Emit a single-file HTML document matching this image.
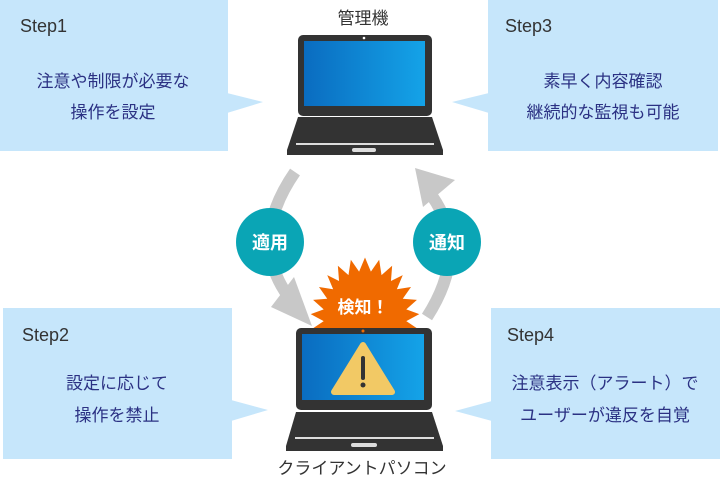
<!DOCTYPE html>
<html><head><meta charset="utf-8"><style>
html,body{margin:0;padding:0;background:#fff;}
svg{display:block;font-family:"Liberation Sans","Noto Sans CJK JP",sans-serif;}
</style></head><body>
<svg width="720" height="479" viewBox="0 0 720 479" xmlns="http://www.w3.org/2000/svg">
<defs>
<linearGradient id="scr" x1="0" x2="1" y1="0" y2="0"><stop offset="0" stop-color="#0a6cc0"/><stop offset="1" stop-color="#14a3e8"/></linearGradient>
</defs>
<g fill="#c6e6fb">
<rect x="0" y="0" width="228" height="151"/><polygon points="227,93 263,102 227,113"/>
<rect x="488" y="0" width="230" height="151"/><polygon points="489,93 452,102 489,113"/>
<rect x="3" y="308" width="229" height="151"/><polygon points="231,400 268,410 231,421"/>
<rect x="491" y="308" width="229" height="151"/><polygon points="492,401 455,411 492,421"/>
</g>
<g font-size="18" fill="#333">
<text x="20" y="32">Step1</text>
<text x="505" y="32">Step3</text>
<text x="22" y="341">Step2</text>
<text x="507" y="341">Step4</text>
</g>
<g font-size="17" fill="#2b3183" text-anchor="middle">
<text x="113" y="87">注意や制限が必要な</text>
<text x="113" y="118">操作を設定</text>
<text x="603" y="87">素早く内容確認</text>
<text x="603" y="118">継続的な監視も可能</text>
<text x="117" y="389">設定に応じて</text>
<text x="117" y="421">操作を禁止</text>
<text x="605" y="389">注意表示（アラート）で</text>
<text x="605" y="421">ユーザーが違反を自覚</text>
</g>
<g fill="none" stroke="#c8c8c8" stroke-width="12">
<path d="M295,172 Q248,240 288,296"/>
<path d="M427,317 Q470,250 432,196"/>
</g>
<polygon points="271,307 294,277 312,326" fill="#c8c8c8"/>
<polygon points="415,168 455,180 423,207" fill="#c8c8c8"/>
<circle cx="270" cy="242" r="34" fill="#0aa5b5"/>
<circle cx="447" cy="242" r="34" fill="#0aa5b5"/>
<g font-size="18" fill="#fff" text-anchor="middle" font-weight="bold">
<text x="270" y="249">適用</text>
<text x="447" y="249">通知</text>
</g>
<g transform="translate(365,307) scale(1.18) translate(-363,-300)">
<polygon fill="#f06a00" points="
363,258 368,270 375,260 377,273 386,265 385,278 395,273 390,285 402,283 395,293 407,294 398,302 409,306 398,312 407,318 395,320 400,330 363,340 326,330 331,320 319,318 328,312 317,306 328,302 319,294 331,293 324,283 336,285 331,273 341,278 340,265 349,273 351,260 358,270"/>
</g>
<text x="363" y="313" font-size="17" fill="#fff" text-anchor="middle" font-weight="bold">検知！</text>
<text x="363" y="24" font-size="17" fill="#333" text-anchor="middle">管理機</text>
<rect x="298" y="35" width="134" height="81" rx="5" fill="#333"/>
<rect x="304" y="41" width="121" height="65" fill="url(#scr)"/>
<circle cx="364" cy="38" r="1.3" fill="#fff"/>
<polygon points="298,117 432,117 443,150 443,155 287,155 287,150" fill="#333"/>
<rect x="296" y="143" width="138" height="2" fill="#ddd"/>
<rect x="352" y="148" width="24" height="4" rx="2" fill="#ddd"/>
<rect x="296" y="328" width="136" height="82" rx="5" fill="#333"/>
<rect x="302" y="334" width="122" height="66" fill="url(#scr)"/>
<circle cx="363" cy="331" r="1.5" fill="#f06a00"/>
<polygon points="363,345 392,392 334,392" fill="#f2c965" stroke="#f2c965" stroke-width="6" stroke-linejoin="round"/>
<rect x="361" y="356" width="4" height="24" rx="2" fill="#333"/>
<circle cx="363" cy="385" r="2.5" fill="#333"/>
<polygon points="296,412 432,412 443,446 443,451 286,451 286,446" fill="#333"/>
<rect x="295" y="437" width="139" height="2" fill="#ddd"/>
<rect x="351" y="443" width="26" height="4" rx="2" fill="#ddd"/>
<text x="362" y="474" font-size="17" fill="#333" text-anchor="middle">クライアントパソコン</text>
</svg>
</body></html>
